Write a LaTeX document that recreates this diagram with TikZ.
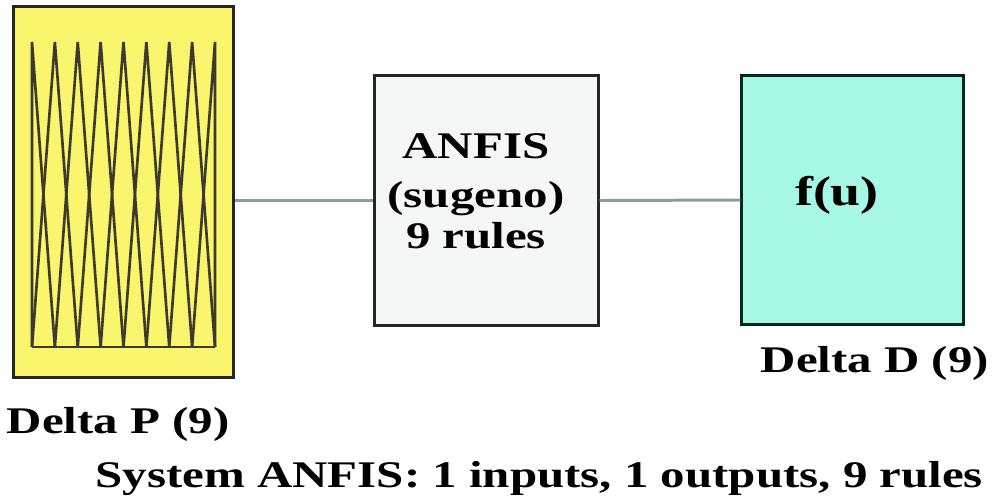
\documentclass[tikz,border=0pt]{standalone}
\usepackage{fontspec}
\newfontfamily\anfisfont{Liberation Serif}[FakeStretch=1.3]
\definecolor{mfyellow}{RGB}{249,245,108}
\definecolor{fisgray}{RGB}{245,246,246}
\definecolor{outcyan}{RGB}{166,247,228}
\definecolor{wirecol}{RGB}{136,158,155}

\begin{document}
\begin{tikzpicture}[x=0.01cm,y=-0.01cm,
    font=\anfisfont\bfseries\fontsize{10.7}{12.8}\selectfont,
    block/.style={draw=black!85,line width=0.85pt,inner sep=0pt},
    mfline/.style={black!75!olive,line width=0.75pt},
    wire/.style={wirecol,line width=0.85pt}]
  \useasboundingbox (0,0) rectangle (1000,502);
  % blocks
  \node[block,fill=mfyellow,minimum width=2.19cm,minimum height=3.7cm] (inmf) at (123.5,192) {};
  \node[block,fill=fisgray,minimum width=2.23cm,minimum height=2.49cm] (fis) at (486.5,200.5) {};
  \node[block,fill=outcyan,draw=black!70!teal,minimum width=2.21cm,minimum height=2.48cm] (outmf) at (852.5,200) {};
  % membership functions
  \foreach \i [evaluate=\i as \px using {32+22.875*(\i-1)},
               evaluate=\i as \lx using {32+22.875*max(\i-2,0)},
               evaluate=\i as \rx using {32+22.875*min(\i,8)}] in {1,...,9}
    \draw[mfline] (\lx,347) -- (\px,42) -- (\rx,347);
  \draw[mfline] (32,347) -- (215,347);
  % wires
  \draw[wire] (inmf.east |- fis.west) -- (fis.west);
  \draw[wire] (fis.east) -- (outmf.west);
  % texts
  \node[align=center,inner sep=0pt] (fistext) at (476,191) {ANFIS\\[1.2pt](sugeno)\\[-1.3pt]9 rules};
  \node[inner sep=0pt,anchor=base,font=\anfisfont\bfseries\fontsize{11.8}{13}\selectfont] (fu) at (837,205) {f(u)};
  \node[inner sep=0pt,anchor=base west] (inlabel) at (6,433) {Delta P (9)};
  \node[inner sep=0pt,anchor=base west] (outlabel) at (760,372) {Delta D (9)};
  \node[inner sep=0pt,anchor=base west] (sysinfo) at (95,487) {System ANFIS: 1 inputs, 1 outputs, 9 rules};
\end{tikzpicture}
\end{document}
